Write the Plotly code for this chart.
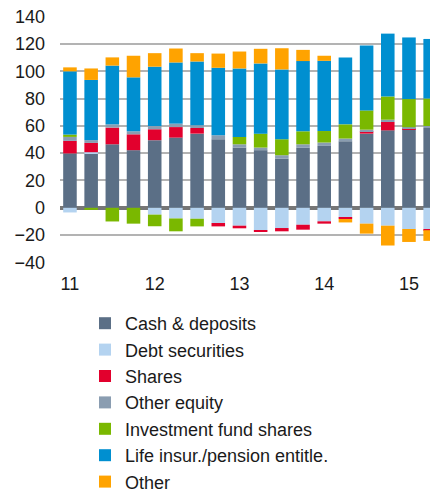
import plotly.graph_objects as go

quarters = list(range(18))
tick_positions = [0, 4, 8, 12, 16]
tick_labels = ["11", "12", "13", "14", "15"]

cash_deposits = [39.8, 39.8, 46.5, 42.2, 49.5, 51.4, 54.3, 50.2, 44.1, 42.2, 35.9, 43.9, 45.3, 48.7, 54.3, 56.7, 57.5, 58.4]
debt_securities = [-3.4, 0.9, 0.0, 0.0, -5.0, -7.8, -8.0, -11.1, -13.1, -16.7, -14.8, -12.4, -9.9, -7.3, -11.6, -13.1, -15.5, -16.0]
shares = [9.2, 6.8, 12.2, 11.6, 8.0, 7.7, 4.1, -2.5, -1.9, -0.5, -2.4, -3.6, -1.7, -0.9, 1.7, 6.1, 0.3, -0.4]
other_equity = [2.9, 2.0, 2.4, 2.2, 2.4, 2.5, 2.0, 2.9, 2.4, 1.9, 2.6, 2.6, 2.5, 2.0, 1.2, 1.7, 1.2, 1.5]
investment_funds = [1.7, -1.5, -10.0, -11.6, -8.5, -9.4, -5.6, 0.0, 5.4, 10.2, 11.7, 9.5, 8.4, 10.4, 14.1, 17.0, 20.6, 20.1]
life_pension = [46.3, 44.1, 43.0, 39.5, 43.4, 44.8, 46.7, 49.4, 50.1, 51.4, 51.1, 51.4, 51.4, 48.9, 47.5, 46.0, 45.1, 43.6]
other = [2.9, 8.4, 6.0, 15.8, 9.9, 10.2, 6.1, 10.4, 12.4, 10.7, 15.5, 8.2, 3.7, -2.5, -7.3, -14.5, -9.5, -7.8]

series_names = ["Cash & deposits", "Debt securities", "Shares", "Other equity",
                "Investment fund shares", "Life insur./pension entitle.", "Other"]
series_values = [cash_deposits, debt_securities, shares, other_equity,
                 investment_funds, life_pension, other]
series_colors = ["#5B6F86", "#B4D3F0", "#E2002D", "#8A9DB1", "#7AB800", "#008FD0", "#FFA300"]

fig = go.Figure()
for name, vals, col in zip(series_names, series_values, series_colors):
    fig.add_trace(go.Bar(
        x=quarters, y=vals, name=name,
        marker=dict(color=col, line=dict(width=0)),
    ))

font_family = "Liberation Sans, Arial, sans-serif"
W, H = 430, 520
L, T = 52, 8
plot_h = 247
B = H - T - plot_h
plot_w = W - L
fig.update_layout(
    width=W, height=H,
    barmode="relative",
    bargap=0.36,
    plot_bgcolor="white",
    paper_bgcolor="white",
    margin=dict(l=L, r=0, t=T, b=B),
    font=dict(family=font_family, size=17, color="#1a1a1a"),
    xaxis=dict(
        range=[-0.47, 17.37],
        tickmode="array", tickvals=tick_positions, ticktext=tick_labels,
        showgrid=False, zeroline=False, showline=False, ticks="",
        ticklabelstandoff=8,
        tickfont=dict(size=18),
    ),
    yaxis=dict(
        range=[-40.4, 140.4], dtick=20,
        showgrid=True, gridcolor="#B3B3B3", gridwidth=1.5,
        zeroline=True, zerolinecolor="#767676", zerolinewidth=3.5,
        showline=False, ticks="",
        ticklabelstandoff=14,
        ticklabeloverflow="allow",
        tickfont=dict(size=18),
    ),
    legend=dict(
        orientation="v", traceorder="normal",
        x=(77 - L) / plot_w, xanchor="left",
        y=-(297 - (T + plot_h)) / plot_h, yanchor="top",
        font=dict(size=18),
        bgcolor="rgba(0,0,0,0)",
    ),
    showlegend=True,
)

fig.write_html("out.html")
